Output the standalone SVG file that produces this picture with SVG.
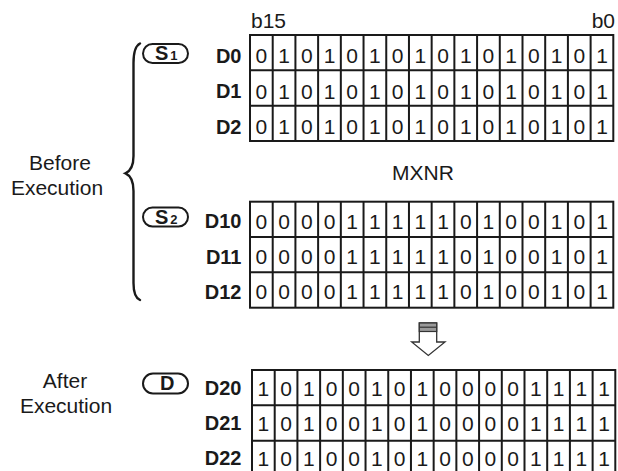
<svg xmlns="http://www.w3.org/2000/svg" xmlns:xlink="http://www.w3.org/1999/xlink" width="618" height="471" viewBox="0 0 618 471">
<style>
text{font-family:"Liberation Sans",Arial,sans-serif;fill:#1a1a1a}
.lbl{font-size:21px}
.reg{font-size:20px;font-weight:bold;text-anchor:end}
.bit{font-size:21px;text-anchor:middle}
.ov{fill:#fff;stroke:#1a1a1a;stroke-width:2}
.ovt{font-size:20px;font-weight:bold}
.ovs{font-size:13px;font-weight:bold}
.grid{fill:none;stroke:#1a1a1a;stroke-width:2}
.brace{fill:none;stroke:#1a1a1a;stroke-width:2.4;stroke-linecap:round}
.arrow{fill:#fff;stroke:#333;stroke-width:1.3}
</style>
<defs>
<g id="frame" class="grid">
<rect x="0" y="0" width="363.3" height="106"/>
<path d="M0,35.33H363.3M0,70.67H363.3M22.71,0V106M45.42,0V106M68.12,0V106M90.83,0V106M113.54,0V106M136.25,0V106M158.96,0V106M181.66,0V106M204.37,0V106M227.08,0V106M249.79,0V106M272.5,0V106M295.2,0V106M317.91,0V106M340.62,0V106"/>
</g>
</defs>
<rect width="618" height="471" fill="#fff"/>

<g id="label-before">
<text class="lbl" x="60" y="170" text-anchor="middle">Before</text>
<text class="lbl" x="57" y="195" text-anchor="middle">Execution</text>
</g>
<g id="label-after">
<text class="lbl" x="65" y="388" text-anchor="middle">After</text>
<text class="lbl" x="66" y="412.5" text-anchor="middle">Execution</text>
</g>

<g id="header">
<text class="lbl" x="251" y="28.3">b15</text>
<text class="lbl" x="615" y="28.3" text-anchor="end">b0</text>
</g>

<g id="s1">
<rect class="ov" x="143" y="44" width="45" height="19" rx="9.5"/>
<text x="155" y="60"><tspan class="ovt">S</tspan><tspan class="ovs" dx="2">1</tspan></text>
</g>
<g id="s2">
<rect class="ov" x="143" y="207.5" width="45" height="19" rx="9.5"/>
<text x="155" y="224"><tspan class="ovt">S</tspan><tspan class="ovs" dx="2">2</tspan></text>
</g>
<g id="d">
<rect class="ov" x="143" y="373.5" width="45" height="20" rx="10"/>
<text class="ovt" x="160" y="390">D</text>
</g>

<g id="block-s1">
<text class="reg" x="241.5" y="63">D0</text>
<text class="reg" x="241.5" y="98.3">D1</text>
<text class="reg" x="241.5" y="133.6">D2</text>
<g transform="translate(250,35)">
<use xlink:href="#frame" href="#frame"/>
<text class="bit" y="28.2" x="11.35 34.06 56.77 79.48 102.19 124.9 147.6 170.31 193.02 215.73 238.44 261.15 283.85 306.56 329.27 351.98">0101010101010101</text>
<text class="bit" y="63.5" x="11.35 34.06 56.77 79.48 102.19 124.9 147.6 170.31 193.02 215.73 238.44 261.15 283.85 306.56 329.27 351.98">0101010101010101</text>
<text class="bit" y="98.8" x="11.35 34.06 56.77 79.48 102.19 124.9 147.6 170.31 193.02 215.73 238.44 261.15 283.85 306.56 329.27 351.98">0101010101010101</text>
</g>
</g>

<g id="op">
<text class="lbl" x="423" y="180" text-anchor="middle" font-size="22">MXNR</text>
</g>

<g id="block-s2">
<text class="reg" x="241.5" y="228.3">D10</text>
<text class="reg" x="241.5" y="263.5">D11</text>
<text class="reg" x="241.5" y="298.7">D12</text>
<g transform="translate(250,201.7)">
<use xlink:href="#frame" href="#frame"/>
<text class="bit" y="27" x="11.35 34.06 56.77 79.48 102.19 124.9 147.6 170.31 193.02 215.73 238.44 261.15 283.85 306.56 329.27 351.98">0000111110100101</text>
<text class="bit" y="62.3" x="11.35 34.06 56.77 79.48 102.19 124.9 147.6 170.31 193.02 215.73 238.44 261.15 283.85 306.56 329.27 351.98">0000111110100101</text>
<text class="bit" y="97.6" x="11.35 34.06 56.77 79.48 102.19 124.9 147.6 170.31 193.02 215.73 238.44 261.15 283.85 306.56 329.27 351.98">0000111110100101</text>
</g>
</g>

<g id="block-d">
<text class="reg" x="241.5" y="395">D20</text>
<text class="reg" x="241.5" y="430">D21</text>
<text class="reg" x="241.5" y="465">D22</text>
<g transform="translate(252,370)">
<use xlink:href="#frame" href="#frame"/>
<text class="bit" y="25.7" x="11.35 34.06 56.77 79.48 102.19 124.9 147.6 170.31 193.02 215.73 238.44 261.15 283.85 306.56 329.27 351.98">1010010100001111</text>
<text class="bit" y="60.7" x="11.35 34.06 56.77 79.48 102.19 124.9 147.6 170.31 193.02 215.73 238.44 261.15 283.85 306.56 329.27 351.98">1010010100001111</text>
<text class="bit" y="95.5" x="11.35 34.06 56.77 79.48 102.19 124.9 147.6 170.31 193.02 215.73 238.44 261.15 283.85 306.56 329.27 351.98">1010010100001111</text>
</g>
</g>

<g id="connectors">
<path class="brace" d="M140,43.5 C135,46 133.5,52 133.5,63 L133.5,156 C133.5,166 130.5,171 125.5,173.3 C130.5,175.5 133.5,181 133.5,191 L133.5,283 C133.5,293 135.5,298 140,300"/>
<g id="arrow">
<polygon class="arrow" points="419.3,323 436.7,323 436.7,342 445,342 428.3,355.5 411.7,342 419.3,342"/>
<rect x="419.3" y="323" width="17.4" height="8.5" fill="#9a9a9a" stroke="#333" stroke-width="1.2"/>
<path d="M419.3,327.2H436.7" stroke="#333" stroke-width="1.2"/>
</g>
</g>
</svg>
